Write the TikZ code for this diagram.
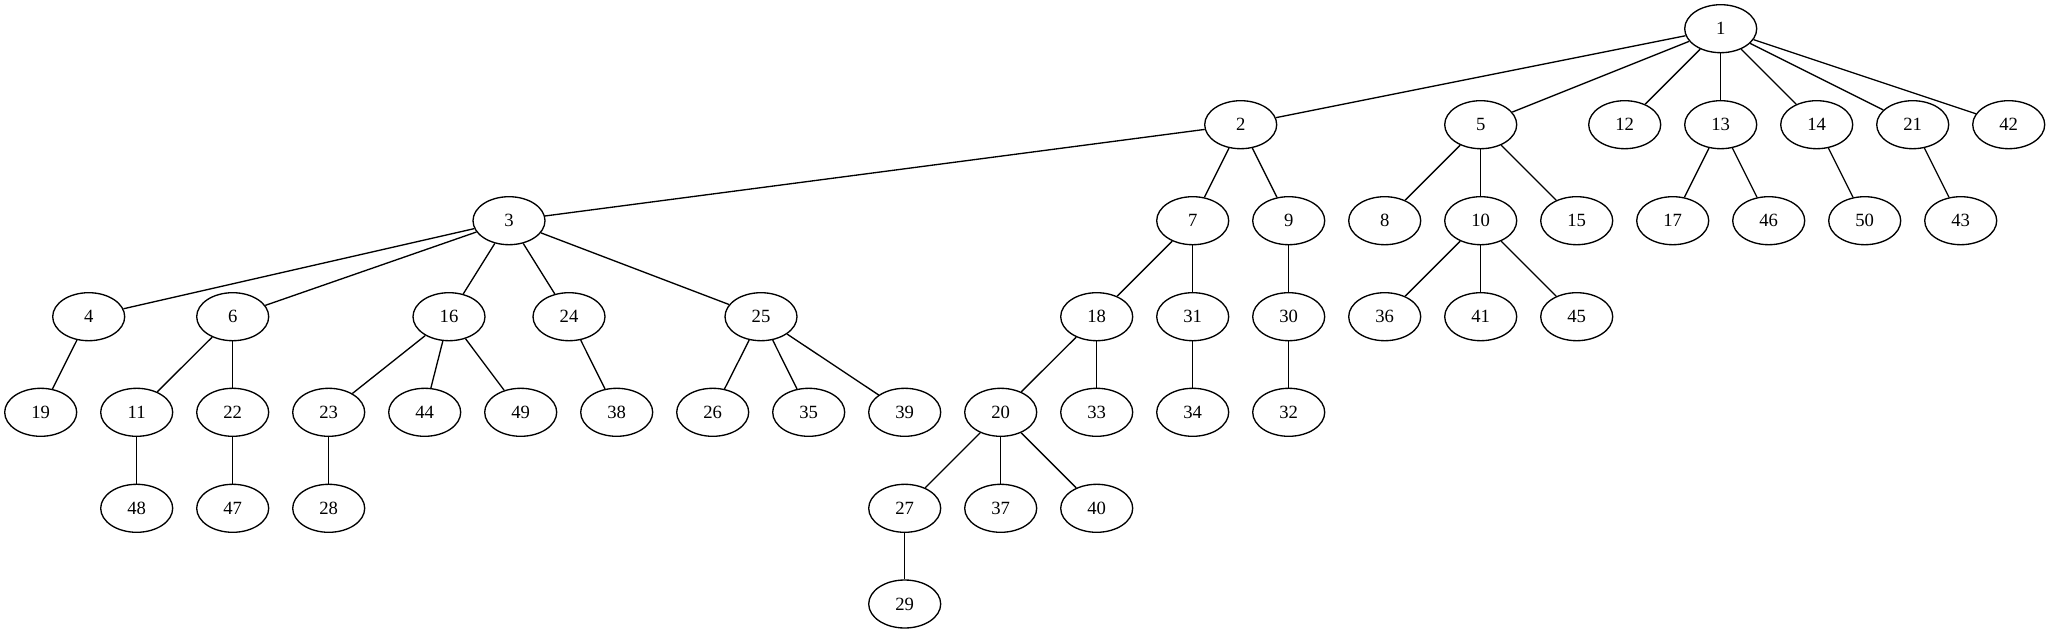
\documentclass[tikz,border=0pt]{standalone}
\usepackage{fontspec}
\setmainfont{Liberation Serif}
\usetikzlibrary{shapes.geometric}
\begin{document}
\begin{tikzpicture}[x=0.75pt,y=-0.75pt,
  nd/.style={draw,ellipse,line width=1pt,minimum width=54pt,minimum height=36pt,inner sep=0pt,font=\fontsize{14}{16}\selectfont},
  ed/.style={line width=1pt}]
\useasboundingbox (0,0) rectangle (2051,635);
\def\La{28.7}\def\Lb{124.7}\def\Lc{220.7}\def\Ld{316.7}\def\Le{412.3}\def\Lf{508.3}\def\Lg{604}
% level 0
\node[nd] (n1) at (1720.7,\La) {1};
% level 1
\node[nd] (n2) at (1240.7,\Lb) {2};
\node[nd] (n5) at (1480.7,\Lb) {5};
\node[nd] (n12) at (1624.7,\Lb) {12};
\node[nd] (n13) at (1720.7,\Lb) {13};
\node[nd] (n14) at (1816.7,\Lb) {14};
\node[nd] (n21) at (1912.7,\Lb) {21};
\node[nd] (n42) at (2008.7,\Lb) {42};
% level 2
\node[nd] (n3) at (509,\Lc) {3};
\node[nd] (n7) at (1192.7,\Lc) {7};
\node[nd] (n9) at (1288.7,\Lc) {9};
\node[nd] (n8) at (1384.7,\Lc) {8};
\node[nd] (n10) at (1480.7,\Lc) {10};
\node[nd] (n15) at (1576.7,\Lc) {15};
\node[nd] (n17) at (1672.7,\Lc) {17};
\node[nd] (n46) at (1768.7,\Lc) {46};
\node[nd] (n50) at (1864.7,\Lc) {50};
\node[nd] (n43) at (1960.7,\Lc) {43};
% level 3
\node[nd] (n4) at (88.7,\Ld) {4};
\node[nd] (n6) at (232.7,\Ld) {6};
\node[nd] (n16) at (449,\Ld) {16};
\node[nd] (n24) at (569,\Ld) {24};
\node[nd] (n25) at (761,\Ld) {25};
\node[nd] (n18) at (1096.7,\Ld) {18};
\node[nd] (n31) at (1192.7,\Ld) {31};
\node[nd] (n30) at (1288.7,\Ld) {30};
\node[nd] (n36) at (1384.7,\Ld) {36};
\node[nd] (n41) at (1480.7,\Ld) {41};
\node[nd] (n45) at (1576.7,\Ld) {45};
% level 4
\node[nd] (n19) at (40.7,\Le) {19};
\node[nd] (n11) at (136.7,\Le) {11};
\node[nd] (n22) at (232.7,\Le) {22};
\node[nd] (n23) at (328.7,\Le) {23};
\node[nd] (n44) at (424.7,\Le) {44};
\node[nd] (n49) at (520.7,\Le) {49};
\node[nd] (n38) at (616.7,\Le) {38};
\node[nd] (n26) at (712.7,\Le) {26};
\node[nd] (n35) at (808.7,\Le) {35};
\node[nd] (n39) at (904.7,\Le) {39};
\node[nd] (n20) at (1000.7,\Le) {20};
\node[nd] (n33) at (1096.7,\Le) {33};
\node[nd] (n34) at (1192.7,\Le) {34};
\node[nd] (n32) at (1288.7,\Le) {32};
% level 5
\node[nd] (n48) at (136.7,\Lf) {48};
\node[nd] (n47) at (232.7,\Lf) {47};
\node[nd] (n28) at (328.7,\Lf) {28};
\node[nd] (n27) at (904.7,\Lf) {27};
\node[nd] (n37) at (1000.7,\Lf) {37};
\node[nd] (n40) at (1096.7,\Lf) {40};
% level 6
\node[nd] (n29) at (904.7,\Lg) {29};
% edges
\foreach \a/\b in {1/2,1/5,1/12,1/13,1/14,1/21,1/42,
  2/3,2/7,2/9,5/8,5/10,5/15,13/17,13/46,14/50,21/43,
  3/4,3/6,3/16,3/24,3/25,7/18,7/31,9/30,10/36,10/41,10/45,
  4/19,6/11,6/22,16/23,16/44,16/49,24/38,25/26,25/35,25/39,18/20,18/33,31/34,30/32,
  11/48,22/47,23/28,20/27,20/37,20/40,27/29}
  \draw[ed] (n\a) -- (n\b);
\end{tikzpicture}
\end{document}
